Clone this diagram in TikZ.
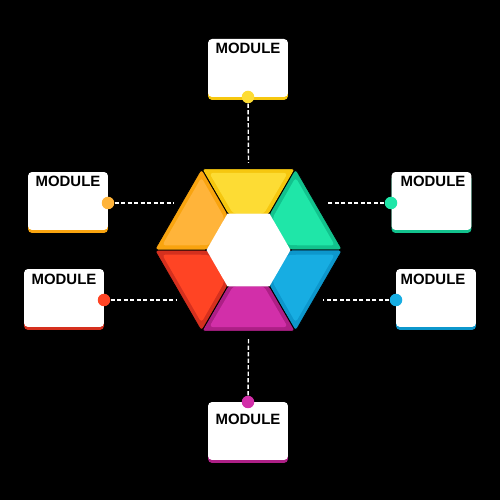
\documentclass[tikz,border=0pt]{standalone}
\usepackage{fontspec}
\setmainfont{Liberation Sans}
\usetikzlibrary{calc,shapes.geometric}
\definecolor{yelLight}{HTML}{FDDC34}\definecolor{yelDark}{HTML}{F6C70F}
\definecolor{orgLight}{HTML}{FFB43A}\definecolor{orgDark}{HTML}{F9A40F}
\definecolor{grnLight}{HTML}{1FE6A8}\definecolor{grnDark}{HTML}{12C28D}
\definecolor{bluLight}{HTML}{17ADE2}\definecolor{bluDark}{HTML}{0D97CC}
\definecolor{magLight}{HTML}{D22FA9}\definecolor{magDark}{HTML}{AD1F86}
\definecolor{redLight}{HTML}{FF4424}\definecolor{redDark}{HTML}{D5301E}
\def\hexseg#1#2#3{%
  \fill[#2, draw=black, line width=0.5pt, rounded corners=2pt] ($(hc)+(#1:94)$) -- ($(hc)+(#1+60:94)$) -- ($(hc)+(#1+60:40)$) -- ($(hc)+(#1:40)$) -- cycle;
  \fill[#3, rounded corners=2pt] ($(hc)+(#1+3:86.5)$) -- ($(hc)+(#1+57:86.5)$) -- ($(hc)+(#1+53:39.4)$) -- ($(hc)+(#1+7:39.4)$) -- cycle;}

\begin{document}
\begin{tikzpicture}[x=0.02cm, y=0.02cm,
  modbox/.style={fill=white, rounded corners=2.3pt, minimum width=1.6cm, minimum height=1.16cm, inner sep=0pt,
    preaction={fill=#1, transform canvas={yshift=-0.06cm}}},
  modtext/.style={anchor=base, inner sep=0pt, font=\fontsize{8.5}{10}\selectfont\bfseries},
  knob/.style={circle, fill=#1, minimum size=0.25cm, inner sep=0pt},
  dashlink/.style={draw=white, line width=0.8pt, dash pattern=on 2.4pt off 1.3pt}]
			%%%%% BACKGROUND %%%%%
			\fill[black] (0, 0) rectangle (500, 500);
			\useasboundingbox (0, 0) rectangle (500, 500);
			
			%%%%% HEXAGON %%%%%
			\coordinate (hc) at (248.5, 250);
			\hexseg{60}{yelDark}{yelLight}
			\hexseg{0}{grnDark}{grnLight}
			\hexseg{-60}{bluDark}{bluLight}
			\hexseg{240}{magDark}{magLight}
			\hexseg{180}{redDark}{redLight}
			\hexseg{120}{orgDark}{orgLight}
			\node[regular polygon, regular polygon sides=6, fill=white, minimum size=1.68cm, inner sep=0pt] (hub) at (hc) {};
			
			\coordinate (eTop) at (248.5, 337);
			\coordinate (eBot) at (248.5, 163);
			\coordinate (eLT) at (174, 297);
			\coordinate (eRT) at (326, 297);
			\coordinate (eLB) at (176, 200);
			\coordinate (eRB) at (323, 200);
			
			%%%%% MODULES %%%%%
			\node[modbox=yelDark] (mTop) at (248, 432) {};
			\node[modtext] (tTop) at ($(mTop.north)+(0, -15)$) {MODULE};
			\node[knob=yelLight] (dTop) at (248, 403) {};
			\draw[dashlink] (dTop) -- (eTop);
			
			\node[modbox=orgDark] (mLT) at (68, 299) {};
			\node[modtext] (tLT) at ($(mLT.north)+(0, -15)$) {MODULE};
			\node[knob=orgLight] (dLT) at (108, 297) {};
			\draw[dashlink] (dLT) -- (eLT);
			
			\node[modbox=grnDark] (mRT) at (431.5, 299) {};
			\node[modtext] (tRT) at ($(mRT.north)+(1.5, -15)$) {MODULE};
			\node[knob=grnLight] (dRT) at (391, 297) {};
			\draw[dashlink] (dRT) -- (eRT);
			
			\node[modbox=redDark] (mLB) at (64, 202) {};
			\node[modtext] (tLB) at ($(mLB.north)+(0, -16)$) {MODULE};
			\node[knob=redLight] (dLB) at (104, 200) {};
			\draw[dashlink] (dLB) -- (eLB);
			
			\node[modbox=bluDark] (mRB) at (436, 202) {};
			\node[modtext] (tRB) at ($(mRB.north)+(-3, -16)$) {MODULE};
			\node[knob=bluLight] (dRB) at (396, 200) {};
			\draw[dashlink] (dRB) -- (eRB);
			
			\node[modbox=magDark] (mBot) at (248, 69) {};
			\node[modtext] (tBot) at ($(mBot.north)+(0, -23)$) {MODULE};
			\node[knob=magLight] (dBot) at (248, 98) {};
			\draw[dashlink] (dBot) -- (eBot);
			
			%%%%% END %%%%%
\end{tikzpicture}
\end{document}
